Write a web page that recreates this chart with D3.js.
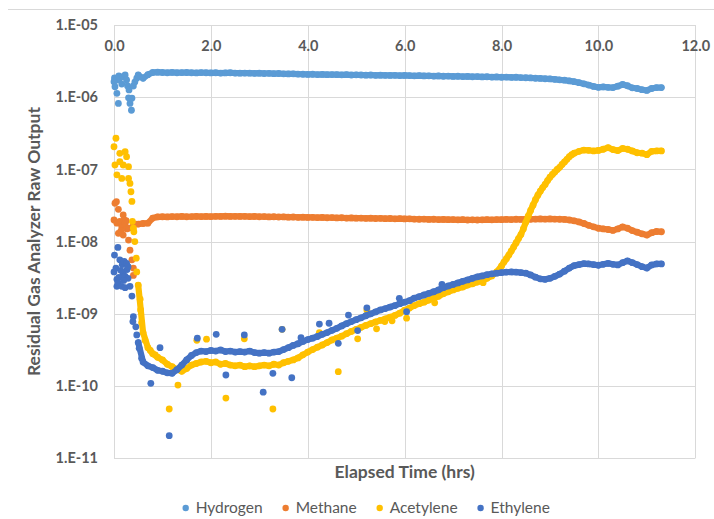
<!DOCTYPE html>
<html>
<head>
<meta charset="utf-8">
<script src="https://cdn.jsdelivr.net/npm/d3@7"></script>
<style>
  body { margin: 0; background: #fff; }
  text { font-family: Lato, "Open Sans", sans-serif; fill: #595959; }
</style>
</head>
<body>
<svg id="chart" width="714" height="519"></svg>
<script>
// elapsed time (hrs) of the regular readings, shared by the four gases
var hours = [0.5, 0.6, 0.7, 0.8, 0.9, 1.0, 1.1, 1.2, 1.3, 1.4, 1.5, 1.6, 1.7, 1.8, 1.9,
  2.0, 2.1, 2.2, 2.3, 2.4, 2.5, 2.6, 2.7, 2.8, 2.9, 3.0, 3.1, 3.2, 3.3, 3.4, 3.5, 3.6, 3.7, 3.8, 3.9,
  4.0, 4.1, 4.2, 4.3, 4.4, 4.5, 4.6, 4.7, 4.8, 4.9, 5.0, 5.1, 5.2, 5.3, 5.4, 5.5, 5.6, 5.7, 5.8, 5.9,
  6.0, 6.1, 6.2, 6.3, 6.4, 6.5, 6.6, 6.7, 6.8, 6.9, 7.0, 7.1, 7.2, 7.3, 7.4, 7.5, 7.6, 7.7, 7.8, 7.9,
  8.0, 8.1, 8.2, 8.3, 8.4, 8.5, 8.6, 8.7, 8.8, 8.9, 9.0, 9.1, 9.2, 9.3, 9.4, 9.5, 9.6, 9.7, 9.8, 9.9,
  10.0, 10.1, 10.2, 10.3, 10.4, 10.5, 10.6, 10.7, 10.8, 10.9, 11.0, 11.1, 11.2, 11.3];

var hydrogen = [2.03e-6, 1.83e-6, 2.05e-6, 2.2e-6, 2.22e-6, 2.2e-6, 2.18e-6, 2.21e-6, 2.18e-6, 2.19e-6,
  2.2e-6, 2.18e-6, 2.17e-6, 2.19e-6, 2.18e-6, 2.17e-6, 2.18e-6, 2.16e-6, 2.17e-6, 2.18e-6,
  2.16e-6, 2.15e-6, 2.16e-6, 2.15e-6, 2.14e-6, 2.15e-6, 2.13e-6, 2.14e-6, 2.12e-6, 2.13e-6,
  2.11e-6, 2.1e-6, 2.11e-6, 2.09e-6, 2.08e-6, 2.07e-6, 2.08e-6, 2.06e-6, 2.07e-6, 2.05e-6,
  2.06e-6, 2.05e-6, 2.04e-6, 2.05e-6, 2.03e-6, 2.04e-6, 2.03e-6, 2.02e-6, 2.03e-6, 2.01e-6,
  2.02e-6, 2.01e-6, 2.0e-6, 2.01e-6, 1.99e-6, 2.0e-6, 1.99e-6, 1.98e-6, 1.99e-6, 1.97e-6,
  1.98e-6, 1.96e-6, 1.97e-6, 1.95e-6, 1.96e-6, 1.94e-6, 1.95e-6, 1.93e-6, 1.94e-6, 1.92e-6,
  1.93e-6, 1.91e-6, 1.92e-6, 1.9e-6, 1.91e-6, 1.89e-6, 1.9e-6, 1.88e-6, 1.89e-6, 1.87e-6,
  1.86e-6, 1.85e-6, 1.83e-6, 1.82e-6, 1.8e-6, 1.79e-6, 1.77e-6, 1.74e-6, 1.72e-6, 1.68e-6,
  1.64e-6, 1.59e-6, 1.53e-6, 1.47e-6, 1.41e-6, 1.37e-6, 1.39e-6, 1.37e-6, 1.36e-6, 1.42e-6,
  1.5e-6, 1.44e-6, 1.35e-6, 1.32e-6, 1.27e-6, 1.24e-6, 1.32e-6, 1.36e-6, 1.36e-6];

var methane = [1.75e-8, 1.78e-8, 1.8e-8, 2.12e-8, 2.2e-8, 2.21e-8, 2.2e-8, 2.22e-8, 2.21e-8, 2.23e-8,
  2.21e-8, 2.22e-8, 2.24e-8, 2.22e-8, 2.23e-8, 2.22e-8, 2.24e-8, 2.23e-8, 2.25e-8, 2.23e-8,
  2.24e-8, 2.23e-8, 2.24e-8, 2.22e-8, 2.23e-8, 2.21e-8, 2.22e-8, 2.2e-8, 2.21e-8, 2.19e-8,
  2.2e-8, 2.18e-8, 2.19e-8, 2.17e-8, 2.18e-8, 2.16e-8, 2.17e-8, 2.15e-8, 2.16e-8, 2.14e-8,
  2.15e-8, 2.13e-8, 2.14e-8, 2.12e-8, 2.13e-8, 2.11e-8, 2.12e-8, 2.1e-8, 2.11e-8, 2.09e-8,
  2.1e-8, 2.08e-8, 2.09e-8, 2.07e-8, 2.08e-8, 2.06e-8, 2.07e-8, 2.05e-8, 2.04e-8, 2.05e-8,
  2.03e-8, 2.04e-8, 2.02e-8, 2.03e-8, 2.01e-8, 2.02e-8, 2.0e-8, 2.01e-8, 1.99e-8, 2.0e-8,
  1.99e-8, 2.0e-8, 2.01e-8, 2.0e-8, 2.02e-8, 2.01e-8, 2.03e-8, 2.02e-8, 2.04e-8, 2.03e-8,
  2.05e-8, 2.04e-8, 2.05e-8, 2.06e-8, 2.05e-8, 2.06e-8, 2.05e-8, 2.04e-8, 2.03e-8, 1.99e-8,
  1.94e-8, 1.87e-8, 1.78e-8, 1.68e-8, 1.6e-8, 1.53e-8, 1.5e-8, 1.47e-8, 1.43e-8, 1.5e-8,
  1.6e-8, 1.53e-8, 1.42e-8, 1.35e-8, 1.28e-8, 1.23e-8, 1.33e-8, 1.38e-8, 1.37e-8];

var acetylene = [2.5e-9, 5.5e-10, 3.4e-10, 2.8e-10, 2.5e-10, 2.3e-10, 2.0e-10, 1.85e-10, 1.7e-10, 1.6e-10,
  1.75e-10, 1.95e-10, 2.05e-10, 2.15e-10, 2.2e-10, 2.1e-10, 2.15e-10, 2.0e-10, 2.05e-10, 1.95e-10,
  1.9e-10, 1.95e-10, 1.85e-10, 1.9e-10, 1.85e-10, 1.9e-10, 1.95e-10, 1.9e-10, 2.0e-10, 1.95e-10,
  2.1e-10, 2.2e-10, 2.3e-10, 2.45e-10, 2.7e-10, 2.95e-10, 3.2e-10, 3.45e-10, 3.7e-10, 4.0e-10,
  4.35e-10, 4.6e-10, 4.9e-10, 5.3e-10, 5.7e-10, 6.1e-10, 6.5e-10, 6.9e-10, 7.3e-10, 7.7e-10,
  8.1e-10, 8.5e-10, 9.0e-10, 9.5e-10, 1.02e-9, 1.12e-9, 1.2e-9, 1.3e-9, 1.38e-9, 1.45e-9,
  1.55e-9, 1.65e-9, 1.75e-9, 1.9e-9, 2.02e-9, 2.14e-9, 2.25e-9, 2.35e-9, 2.5e-9, 2.6e-9,
  2.75e-9, 2.9e-9, 3.1e-9, 3.35e-9, 3.8e-9, 4.6e-9, 5.8e-9, 7.4e-9, 9.6e-9, 1.25e-8,
  1.85e-8, 2.7e-8, 3.8e-8, 5.0e-8, 6.2e-8, 7.8e-8, 9.2e-8, 1.07e-7, 1.27e-7, 1.5e-7,
  1.68e-7, 1.78e-7, 1.85e-7, 1.84e-7, 1.8e-7, 1.83e-7, 1.9e-7, 2.0e-7, 1.88e-7, 1.82e-7,
  1.95e-7, 1.9e-7, 1.8e-7, 1.7e-7, 1.68e-7, 1.6e-7, 1.78e-7, 1.8e-7, 1.8e-7];

var ethylene = [4.0e-10, 2.15e-10, 1.9e-10, 1.8e-10, 1.65e-10, 1.6e-10, 1.52e-10, 1.5e-10, 1.68e-10, 1.95e-10,
  2.3e-10, 2.65e-10, 2.9e-10, 3.05e-10, 3.0e-10, 3.1e-10, 3.05e-10, 3.15e-10, 3.0e-10, 3.05e-10,
  2.95e-10, 3.0e-10, 2.95e-10, 3.05e-10, 2.9e-10, 2.85e-10, 2.9e-10, 2.85e-10, 2.95e-10, 3.0e-10,
  3.2e-10, 3.4e-10, 3.65e-10, 3.85e-10, 4.15e-10, 4.4e-10, 4.6e-10, 4.85e-10, 5.2e-10, 5.5e-10,
  5.9e-10, 6.3e-10, 6.8e-10, 7.3e-10, 7.8e-10, 8.3e-10, 8.8e-10, 9.4e-10, 1.0e-9, 1.06e-9,
  1.13e-9, 1.18e-9, 1.24e-9, 1.3e-9, 1.38e-9, 1.45e-9, 1.52e-9, 1.65e-9, 1.73e-9, 1.82e-9,
  1.92e-9, 2.02e-9, 2.15e-9, 2.3e-9, 2.43e-9, 2.55e-9, 2.68e-9, 2.82e-9, 2.95e-9, 3.1e-9,
  3.25e-9, 3.35e-9, 3.48e-9, 3.58e-9, 3.65e-9, 3.72e-9, 3.78e-9, 3.8e-9, 3.78e-9, 3.72e-9,
  3.65e-9, 3.45e-9, 3.22e-9, 3.05e-9, 3.0e-9, 3.1e-9, 3.3e-9, 3.55e-9, 3.9e-9, 4.3e-9,
  4.65e-9, 4.8e-9, 4.95e-9, 4.9e-9, 4.8e-9, 4.7e-9, 4.85e-9, 5.0e-9, 4.85e-9, 4.75e-9,
  5.1e-9, 5.4e-9, 5.1e-9, 4.8e-9, 4.5e-9, 4.3e-9, 4.75e-9, 4.9e-9, 4.9e-9];

// the noisy first half hour, [hours, output]
var hydrogenEarly = [[0.0, 1.64e-6], [0.01, 1.85e-6], [0.02, 1.4e-6], [0.06, 1.13e-6], [0.06, 1.73e-6],
  [0.09, 0.82e-6], [0.1, 1.97e-6], [0.12, 1.83e-6], [0.16, 1.52e-6], [0.19, 1.92e-6], [0.23, 2.03e-6],
  [0.26, 1.73e-6], [0.28, 1.43e-6], [0.3, 0.98e-6], [0.31, 1.26e-6], [0.33, 0.82e-6], [0.36, 0.66e-6],
  [0.37, 0.97e-6], [0.4, 1.43e-6], [0.43, 1.62e-6], [0.47, 1.83e-6]];

var methaneEarly = [[0.02, 3.4e-8], [0.05, 3.57e-8], [0.09, 2.8e-8], [0.0, 1.99e-8], [0.06, 1.8e-8],
  [0.12, 1.9e-8], [0.16, 1.61e-8], [0.19, 2.34e-8], [0.21, 2.0e-8], [0.23, 1.79e-8], [0.25, 1.95e-8],
  [0.09, 1.3e-8], [0.14, 1.4e-8], [0.19, 1.23e-8], [0.26, 1.5e-8], [0.3, 1.53e-8], [0.3, 1.05e-8],
  [0.33, 0.76e-8], [0.37, 0.56e-8], [0.4, 0.43e-8], [0.4, 0.34e-8], [0.38, 1.6e-8], [0.45, 1.75e-8]];

var acetyleneEarly = [[0.04, 2.7e-7], [0.0, 2.06e-7], [0.12, 1.67e-7], [0.23, 1.76e-7], [0.12, 1.28e-7],
  [0.26, 1.5e-7], [0.02, 1.15e-7], [0.19, 1.15e-7], [0.3, 1.09e-7], [0.06, 0.84e-7], [0.16, 0.75e-7],
  [0.3, 0.75e-7], [0.33, 0.64e-7], [0.35, 0.49e-7], [0.37, 0.36e-7], [0.38, 1.9e-8], [0.4, 1.53e-8],
  [0.41, 1.37e-8], [0.43, 1.0e-8], [0.46, 5.9e-9], [0.47, 3.8e-9], [0.54, 1.59e-9], [0.55, 1.13e-9],
  [0.57, 0.75e-9], [0.64, 4.3e-10], [0.75, 3.1e-10], [0.85, 2.7e-10]];

var ethyleneEarly = [[0.0, 3.8e-9], [0.01, 6.5e-9], [0.08, 8.3e-9], [0.06, 3.0e-9], [0.06, 2.4e-9],
  [0.08, 2.7e-9], [0.12, 5.6e-9], [0.16, 2.4e-9], [0.17, 4.8e-9], [0.19, 3.6e-9], [0.21, 5.3e-9],
  [0.23, 3.3e-9], [0.23, 2.3e-9], [0.26, 5.0e-9], [0.27, 4.1e-9], [0.29, 4.5e-9], [0.29, 3.1e-9],
  [0.04, 4.3e-9], [0.1, 3.2e-9], [0.14, 4.0e-9], [0.2, 2.9e-9], [0.33, 2.4e-9], [0.37, 1.76e-9],
  [0.39, 0.78e-9], [0.4, 0.91e-9], [0.45, 0.66e-9], [0.47, 0.51e-9], [0.52, 3.33e-10], [0.57, 2.42e-10]];

// extra readings on the steep acetylene climb
var acetyleneRise = [[8.05, 5.2e-9], [8.15, 6.5e-9], [8.25, 8.4e-9], [8.35, 1.1e-8], [8.45, 1.5e-8],
  [8.55, 2.25e-8], [8.65, 3.2e-8], [8.75, 4.4e-8], [8.85, 5.6e-8], [8.95, 7.0e-8], [9.05, 8.5e-8],
  [9.15, 1.0e-7], [9.25, 1.17e-7], [9.35, 1.38e-7], [9.45, 1.6e-7]];

// stray readings away from the trend
var acetyleneStray = [[1.14, 4.8e-11], [1.32, 1.03e-10], [1.71, 4.3e-10], [1.91, 4.45e-10], [2.31, 0.68e-10],
  [2.69, 4.5e-10], [3.28, 4.8e-11], [3.47, 6.1e-10], [4.24, 5.5e-10], [4.63, 1.58e-10], [5.03, 4.5e-10],
  [5.22, 1.13e-9], [5.42, 6.2e-10], [5.59, 7.8e-10], [5.74, 8.0e-10], [6.04, 8.7e-10], [6.62, 1.42e-9],
  [7.62, 2.7e-9]];

var ethyleneStray = [[0.76, 1.09e-10], [0.95, 3.39e-10], [1.14, 2.05e-11], [1.72, 4.6e-10], [2.11, 5.2e-10],
  [2.31, 1.42e-10], [2.69, 5.1e-10], [3.08, 0.82e-10], [3.28, 1.5e-10], [3.47, 6.1e-10], [3.67, 1.3e-10],
  [3.86, 4.66e-10], [4.24, 7.2e-10], [4.44, 7.4e-10], [4.63, 3.9e-10], [4.84, 9.6e-10], [5.03, 5.85e-10],
  [5.22, 1.21e-9], [5.89, 1.64e-9], [6.04, 1.07e-9], [6.77, 2.55e-9]];

var seriesNames = ['Hydrogen', 'Methane', 'Acetylene', 'Ethylene'];
var xTicks = [0, 2, 4, 6, 8, 10, 12];
var yTicks = [1e-11, 1e-10, 1e-9, 1e-8, 1e-7, 1e-6, 1e-5];

var COLORS = { Hydrogen: '#5b9bd5', Methane: '#ed7d31', Acetylene: '#ffc000', Ethylene: '#4472c4' };
var GRID = '#d9d9d9';
var DOT_R = 3.4;

function pairs(values) {
  return hours.map(function(h, i) { return [h, values[i]]; });
}

function byTime(a, b) { return a[0] - b[0]; }

// trend = the regular readings (drawn as a dense band), points = every reading
var series = [
  { name: 'Hydrogen', trend: pairs(hydrogen), extra: hydrogenEarly },
  { name: 'Methane', trend: pairs(methane), extra: methaneEarly },
  { name: 'Acetylene', trend: pairs(acetylene).concat(acetyleneRise).sort(byTime),
    extra: acetyleneEarly.concat(acetyleneStray) },
  { name: 'Ethylene', trend: pairs(ethylene), extra: ethyleneEarly.concat(ethyleneStray) }
];

var svg = d3.select('#chart');
var plot = { left: 114, right: 695.3, top: 25, bottom: 458.2 };

var x = d3.scaleLinear().domain([0, 12]).range([plot.left, plot.right]);
var y = d3.scaleLog().domain([1e-11, 1e-5]).range([plot.bottom, plot.top]);

// chart area top edge
svg.append('line')
  .attr('x1', 8).attr('x2', 714).attr('y1', 9.5).attr('y2', 9.5)
  .attr('stroke', GRID);

// grid lines
svg.append('g').selectAll('line').data(yTicks).enter().append('line')
  .attr('x1', plot.left).attr('x2', plot.right)
  .attr('y1', function(d) { return Math.round(y(d)) + 0.5; })
  .attr('y2', function(d) { return Math.round(y(d)) + 0.5; })
  .attr('stroke', GRID);

svg.append('g').selectAll('line').data(xTicks).enter().append('line')
  .attr('x1', function(d) { return Math.round(x(d)) + 0.5; })
  .attr('x2', function(d) { return Math.round(x(d)) + 0.5; })
  .attr('y1', plot.top).attr('y2', plot.bottom)
  .attr('stroke', GRID);

function styleTicks(g) {
  g.select('.domain').remove();
  g.selectAll('text')
    .style('font-family', 'Lato, sans-serif')
    .style('font-size', '14.5px')
    .style('font-weight', 'bold')
    .attr('fill', '#595959');
}

// x axis labels sit just under the top of the plot
var xAxis = d3.axisBottom(x).tickValues(xTicks).tickSize(0).tickPadding(16)
  .tickFormat(d3.format('.1f'));
svg.append('g').attr('transform', 'translate(0,' + plot.top + ')').call(xAxis).call(styleTicks);

var yAxis = d3.axisLeft(y).tickValues(yTicks).tickSize(0).tickPadding(16)
  .tickFormat(function(d) {
    var e = -Math.round(Math.log10(d));
    return '1.E-' + (e < 10 ? '0' + e : e);
  });
svg.append('g').attr('transform', 'translate(' + plot.left + ',0)').call(yAxis).call(styleTicks);

// markers, ethylene drawn last so it sits on top
var line = d3.line()
  .x(function(p) { return x(p[0]); })
  .y(function(p) { return y(p[1]); });

var groups = svg.append('g').selectAll('g.series').data(series).enter()
  .append('g').classed('series', true)
  .attr('fill', function(s) { return COLORS[s.name]; });

// readings are taken so often that the markers merge into a band
groups.append('path')
  .attr('d', function(s) { return line(s.trend); })
  .attr('fill', 'none')
  .attr('stroke', function(s) { return COLORS[s.name]; })
  .attr('stroke-width', DOT_R * 2 - 0.6)
  .attr('stroke-linejoin', 'round')
  .attr('stroke-linecap', 'round');

groups.selectAll('circle').data(function(s) { return s.extra.concat(s.trend); }).enter()
  .append('circle')
  .attr('cx', function(p) { return x(p[0]); })
  .attr('cy', function(p) { return y(p[1]); })
  .attr('r', DOT_R);

// axis titles
svg.append('text')
  .attr('transform', 'translate(40,' + ((plot.top + plot.bottom) / 2) + ') rotate(-90)')
  .attr('text-anchor', 'middle')
  .style('font-size', '17.5px').style('font-weight', 'bold')
  .text('Residual Gas Analyzer Raw Output');

svg.append('text')
  .attr('x', (plot.left + plot.right) / 2).attr('y', 478)
  .attr('text-anchor', 'middle')
  .style('font-size', '17.5px').style('font-weight', 'bold')
  .text('Elapsed Time (hrs)');

// legend
var legendX = 185.7;
seriesNames.forEach(function(name) {
  svg.append('circle').attr('cx', legendX).attr('cy', 508).attr('r', 3.2).attr('fill', COLORS[name]);
  var t = svg.append('text').attr('x', legendX + 10).attr('y', 513)
    .style('font-size', '15.5px')
    .text(name);
  legendX += 10 + t.node().getComputedTextLength() + 23;
});
</script>
</body>
</html>
